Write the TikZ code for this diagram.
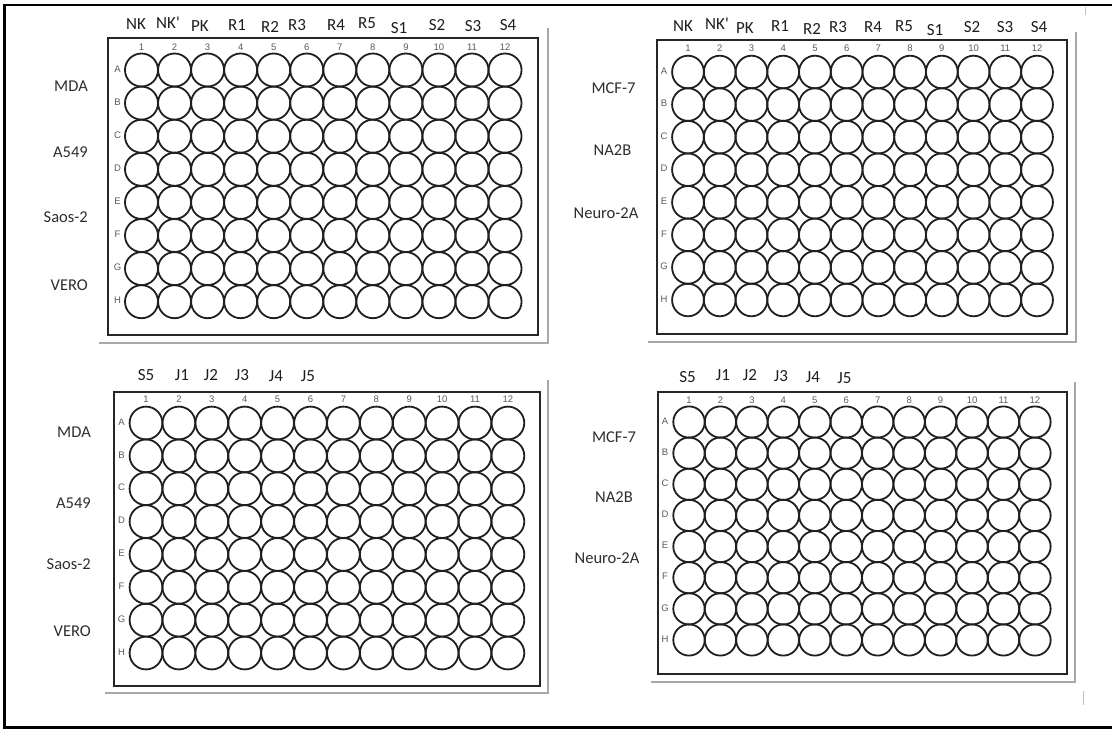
\documentclass[tikz,border=0pt]{standalone}
\usepackage{fontspec}
\setmainfont{Carlito}
\newfontfamily\numfont{Liberation Sans}
\definecolor{labtext}{HTML}{1E1E1E}
\definecolor{rowtext}{HTML}{2E2E2E}
\definecolor{smalltext}{HTML}{5A5A5A}
\definecolor{shadowgray}{HTML}{A8A8A8}
\begin{document}
\begin{tikzpicture}[x=1pt,y=-1pt,
  frameline/.style={line width=2.6pt,black},
  platebox/.style={draw=black!85,line width=2.3pt},
  wellcirc/.style={draw=black!88,line width=1.8pt},
  shadowline/.style={draw=shadowgray,line width=1.6pt},
  artline/.style={draw=shadowgray!70,line width=1pt},
  headlab/.style={anchor=base,inner sep=0pt,font=\fontsize{17}{17}\selectfont,text=labtext},
  rowlabE/.style={anchor=base east,inner sep=0pt,font=\fontsize{16.5}{16.5}\selectfont,text=rowtext},
  rowlabC/.style={anchor=base,inner sep=0pt,font=\fontsize{16.5}{16.5}\selectfont,text=rowtext},
  colnum/.style={inner sep=0pt,font=\numfont\fontsize{9.5}{9.5}\selectfont,text=smalltext},
  rowlet/.style={inner sep=0pt,font=\numfont\fontsize{9.5}{9.5}\selectfont,text=smalltext}]
\useasboundingbox (0,0) rectangle (1112,729);
% outer frame (open at right)
\draw[frameline] (1113,5) -- (4.5,5) -- (4.5,727.5) -- (1113,727.5);
% small remnants
\draw[artline] (1085,7) -- (1085,15);
\draw[artline] (1083,691) -- (1083,705);

% ---------------- Plate 1 ----------------
\draw[shadowline] (99,343) -- (548,343) -- (548,28);
\draw[platebox] (108,38) rectangle (538,335);
\foreach \c in {1,...,12}{
  \foreach \r in {1,...,8}{
    \draw[wellcirc] ({141.5+(\c-1)*33.05},{70+(\r-1)*33.1}) circle[x radius=16.5pt,y radius=16.5pt];
  }
  \node[colnum] (pAc\c) at ({141.5+(\c-1)*33.05},47) {\c};
}
\foreach \L [count=\r] in {A,B,C,D,E,F,G,H}
  \node[rowlet] (pAr\r) at (117.5,{69+(\r-1)*33.1}) {\L};
\foreach \t/\x/\y [count=\i] in {NK/136/24,NK\textquotesingle/168/23,PK/200/26,R1/237/24.5,R2/270/27,R3/297/24.5,R4/336/24.5,R5/367/23,S1/399/27.5,S2/437/24.5,S3/473/25.5,S4/508/24.5}
  \node[headlab] (pAh\i) at (\x,\y+5.5) {\t};
\node[rowlabE] (pAmda) at (88,86+5.5) {MDA};
\node[rowlabE] (pAa549) at (88,152+5.5) {A549};
\node[rowlabE] (pAsaos) at (88,217+5.5) {Saos-2};
\node[rowlabE] (pAvero) at (88,285+5.5) {VERO};

% ---------------- Plate 2 ----------------
\draw[shadowline] (648,342) -- (1076,342) -- (1076,32);
\draw[platebox] (657,40) rectangle (1067,334);
\foreach \c in {1,...,12}{
  \foreach \r in {1,...,8}{
    \draw[wellcirc] ({688+(\c-1)*31.73},{72+(\r-1)*32.57}) circle[x radius=15.9pt,y radius=16.3pt];
  }
  \node[colnum] (pBc\c) at ({688+(\c-1)*31.73},48) {\c};
}
\foreach \L [count=\r] in {A,B,C,D,E,F,G,H}
  \node[rowlet] (pBr\r) at (664,{71+(\r-1)*32.57}) {\L};
\foreach \t/\x/\y [count=\i] in {NK/683/26,NK\textquotesingle/717/24,PK/745/27.5,R1/780/26,R2/812/29,R3/838/27,R4/873/27,R5/904/25.5,S1/935/30,S2/972/27,S3/1005/27,S4/1039/27}
  \node[headlab] (pBh\i) at (\x,\y+5.5) {\t};
\node[rowlabC] (pBmcf) at (613.5,88+5.5) {MCF-7};
\node[rowlabC] (pBna) at (612.5,150+5.5) {NA2B};
\node[rowlabC] (pBneuro) at (606,213+5.5) {Neuro-2A};

% ---------------- Plate 3 ----------------
\draw[shadowline] (105,693) -- (548,693) -- (548,380);
\draw[platebox] (114,392) rectangle (540,686);
\foreach \c in {1,...,12}{
  \foreach \r in {1,...,8}{
    \draw[wellcirc] ({146+(\c-1)*32.9},{423+(\r-1)*32.86}) circle[x radius=16.4pt,y radius=16.4pt];
  }
  \node[colnum] (pCc\c) at ({146+(\c-1)*32.9},399.5) {\c};
}
\foreach \L [count=\r] in {A,B,C,D,E,F,G,H}
  \node[rowlet] (pCr\r) at (121.5,{422+(\r-1)*32.86}) {\L};
\foreach \t/\x/\y [count=\i] in {S5/146/375,J1/182/374.7,J2/211/374.7,J3/242/374.5,J4/276/376,J5/308/376}
  \node[headlab] (pCh\i) at (\x,\y+5.5) {\t};
\node[rowlabE] (pCmda) at (91,431.7+5.5) {MDA};
\node[rowlabE] (pCa549) at (91,503+5.5) {A549};
\node[rowlabE] (pCsaos) at (91,564+5.5) {Saos-2};
\node[rowlabE] (pCvero) at (91,630.7+5.5) {VERO};

% ---------------- Plate 4 ----------------
\draw[shadowline] (651,682) -- (1075,682) -- (1075,382);
\draw[platebox] (658,392) rectangle (1067,674);
\foreach \c in {1,...,12}{
  \foreach \r in {1,...,8}{
    \draw[wellcirc] ({689+(\c-1)*31.45},{422+(\r-1)*31.14}) circle[x radius=15.7pt,y radius=15.6pt];
  }
  \node[colnum] (pDc\c) at ({689+(\c-1)*31.45},400) {\c};
}
\foreach \L [count=\r] in {A,B,C,D,E,F,G,H}
  \node[rowlet] (pDr\r) at (665,{421+(\r-1)*31.14}) {\L};
\foreach \t/\x/\y [count=\i] in {S5/687.5/377,J1/723/375,J2/750/375,J3/781/375.5,J4/813/377,J5/844.5/377.5}
  \node[headlab] (pDh\i) at (\x,\y+5.5) {\t};
\node[rowlabC] (pDmcf) at (614,437+5.5) {MCF-7};
\node[rowlabC] (pDna) at (614,497+5.5) {NA2B};
\node[rowlabC] (pDneuro) at (607,558+5.5) {Neuro-2A};
\end{tikzpicture}
\end{document}
